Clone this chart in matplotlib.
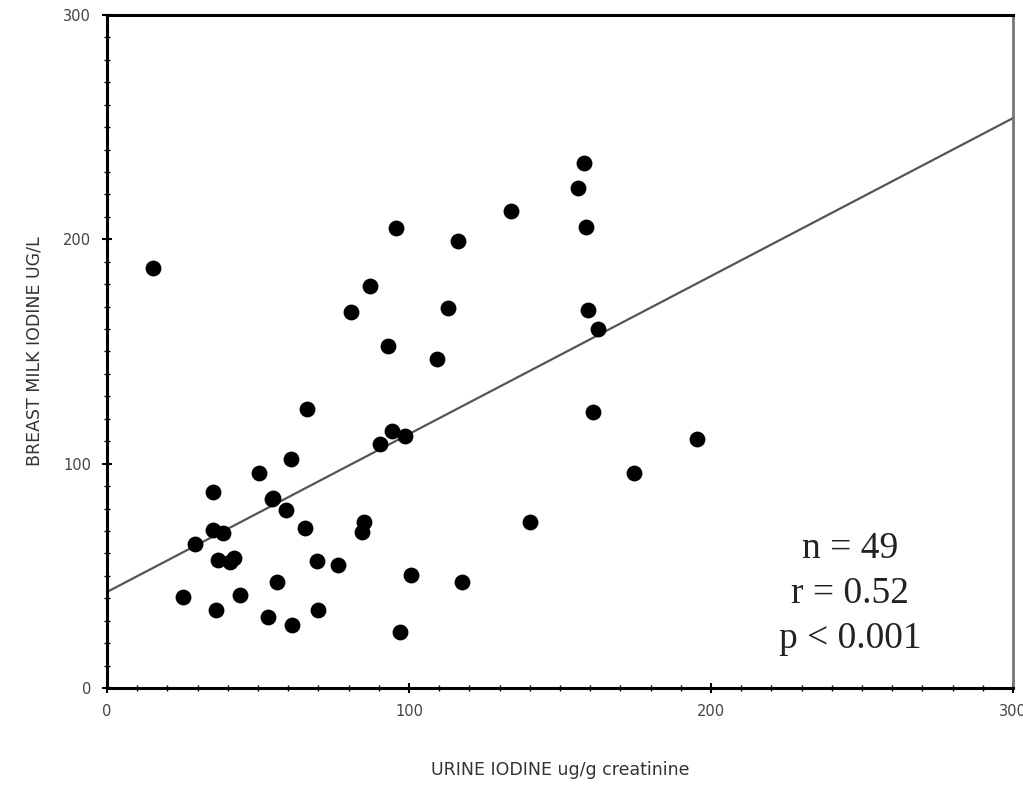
import numpy as np
import matplotlib.pyplot as plt
from matplotlib.ticker import MultipleLocator

# urine iodine (ug/g creatinine) vs breast milk iodine (ug/L)
urine = [15.2, 25.2, 29.1, 35.1, 35.1, 36.8, 36.1, 38.4, 40.7, 42.1,
         44.0, 50.3, 53.3, 54.6, 56.3, 59.3, 60.9, 61.3, 65.6, 66.2,
         69.5, 69.9, 76.5, 80.8, 84.4, 85.1, 87.1, 90.4, 93.0, 94.4,
         95.7, 97.0, 98.7, 100.7, 109.3, 112.9, 116.2, 117.5, 133.8, 140.1,
         156.0, 157.9, 158.6, 159.3, 160.9, 162.6, 174.5, 195.4, 55.0]
milk = [187.2, 40.6, 64.2, 87.4, 70.4, 57.1, 34.8, 69.1, 56.2, 58.0,
        41.5, 95.9, 31.7, 84.3, 47.3, 79.4, 102.1, 28.1, 71.3, 124.4,
        56.6, 34.8, 54.8, 167.6, 69.6, 74.0, 179.2, 108.8, 152.5, 114.6,
        205.1, 25.0, 112.3, 50.4, 146.7, 169.4, 199.3, 47.3, 212.7, 74.0,
        222.9, 234.1, 205.5, 168.5, 123.0, 160.1, 95.9, 111.0, 84.6]

# regression line as drawn in the figure
fit_intercept = 42.8
fit_slope = 0.704

stats_lines = ["n = 49", "r = 0.52", "p < 0.001"]

fig = plt.figure(figsize=(10.23, 7.90), dpi=100)
ax = fig.add_axes([0.1046, 0.1291, 0.8856, 0.852])

ax.scatter(urine, milk, s=130, color='black', zorder=3, linewidths=0)
xs = np.array([0, 300])
ax.plot(xs, fit_intercept + fit_slope * xs, color='#555555', lw=1.6, zorder=2)

ax.set_xlim(0, 300)
ax.set_ylim(0, 300)
ax.xaxis.set_major_locator(MultipleLocator(100))
ax.yaxis.set_major_locator(MultipleLocator(100))
ax.xaxis.set_minor_locator(MultipleLocator(10))
ax.yaxis.set_minor_locator(MultipleLocator(10))
ax.tick_params(which='major', direction='inout', length=7, width=1.5,
               labelsize=10.5, labelcolor='#444444', pad=8)
ax.tick_params(which='minor', direction='inout', length=4, width=1.0)

for side in ['left', 'bottom', 'top']:
    ax.spines[side].set_linewidth(2.2)
ax.spines['right'].set_linewidth(2.0)
ax.spines['right'].set_color('#777777')

ax.set_xlabel('URINE IODINE ug/g creatinine', fontsize=12.5, color='#333333', labelpad=30)
ax.set_ylabel('BREAST MILK IODINE UG/L', fontsize=12.5, color='#333333', labelpad=14)

for i, line in enumerate(stats_lines):
    ax.text(246, 62 - i * 20.0, line, ha='center', va='center',
            fontsize=27, family='Liberation Serif', color='#222222')

fig.savefig('out.png', dpi=100)
